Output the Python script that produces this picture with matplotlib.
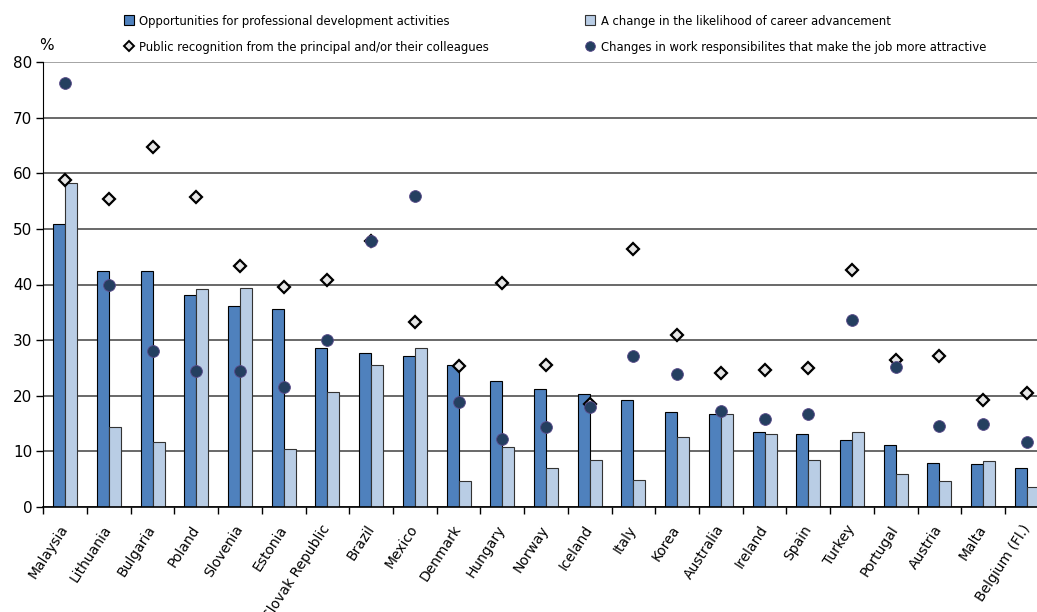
import numpy as np
import matplotlib.pyplot as plt
from matplotlib.lines import Line2D
from matplotlib.patches import Patch
from matplotlib.font_manager import FontProperties

countries = ["Malaysia", "Lithuania", "Bulgaria", "Poland", "Slovenia", "Estonia",
             "Slovak Republic", "Brazil", "Mexico", "Denmark", "Hungary", "Norway",
             "Iceland", "Italy", "Korea", "Australia", "Ireland", "Spain", "Turkey",
             "Portugal", "Austria", "Malta", "Belgium (Fl.)"]

# bars
prof_dev = [50.9, 42.4, 42.4, 38.2, 36.2, 35.6, 28.6, 27.6, 27.1, 25.5, 22.7, 21.2,
            20.4, 19.2, 17.0, 16.8, 13.4, 13.2, 12.0, 11.2, 7.9, 7.7, 7.1]
career_adv = [58.2, 14.3, 11.6, 39.2, 39.4, 10.4, 20.7, 25.5, 28.5, 4.7, 10.7, 7.0,
              8.5, 4.9, 12.6, 16.8, 13.2, 8.5, 13.4, 6.0, 4.7, 8.3, 3.6]
# markers
recognition = [58.7, 55.4, 64.8, 55.8, 43.3, 39.6, 40.8, 47.8, 33.3, 25.3, 40.2, 25.6,
               18.5, 46.3, 31.0, 24.1, 24.7, 25.0, 42.6, 26.4, 27.1, 19.2, 20.5]
responsibilities = [76.3, 39.9, 28.0, 24.5, 24.4, 21.6, 30.0, 47.8, 55.9, 18.9, 12.3, 14.4,
                    18.0, 27.1, 24.0, 17.3, 15.9, 16.8, 33.6, 25.2, 14.6, 15.0, 11.7]

labels = ["Opportunities for professional development activities",
          "A change in the likelihood of career advancement",
          "Public recognition from the principal and/or their colleagues",
          "Changes in work responsibilites that make the job more attractive"]

DARK = "#4F81BD"
LIGHT = "#B9CDE5"
NAVY = "#243F60"

W, H = 1037, 612
fig = plt.figure(figsize=(W / 100, H / 100), dpi=100)
# axes runs a little past the right edge of the figure
ax = fig.add_axes([43.3 / W, 105 / H, 1005.4 / W, 445 / H])

x = np.arange(len(countries))
bw = 0.275
ax.bar(x - bw / 2, prof_dev, bw, color=DARK, edgecolor="black", linewidth=0.8, zorder=2)
ax.bar(x + bw / 2, career_adv, bw, color=LIGHT, edgecolor="#333333", linewidth=0.8, zorder=2)
ax.plot(x, recognition, linestyle="none", marker="D", markersize=6.0,
        markerfacecolor="#E6E6E6", markeredgecolor="black", markeredgewidth=1.6, zorder=3)
ax.plot(x, responsibilities, linestyle="none", marker="o", markersize=8.5,
        markerfacecolor=NAVY, markeredgecolor="#5A4A8A", markeredgewidth=0.6, zorder=4)

ax.set_xlim(-0.5, len(countries) - 0.5)
ax.set_ylim(0, 80)
ax.set_yticks(np.arange(0, 81, 10))
ax.yaxis.grid(True, color="#404040", linewidth=1.1, zorder=0)
ax.set_axisbelow(True)
# top gridline is drawn lighter
ax.get_ygridlines()[-1].set_color("#8C8C8C")

for s in ["top", "right"]:
    ax.spines[s].set_visible(False)
ax.spines["left"].set_color("black")
ax.spines["bottom"].set_color("black")
ax.spines["bottom"].set_linewidth(1.2)

ax.tick_params(axis="y", direction="out", length=5, width=1, labelsize=11, pad=3)
ax.set_xticks(x)
ax.set_xticklabels(countries, rotation=57, ha="right", va="center",
                   rotation_mode="anchor", fontsize=10)
ax.tick_params(axis="x", which="major", length=0, pad=14)
ax.set_xticks(np.arange(-0.5, len(countries), 1.0), minor=True)
ax.tick_params(axis="x", which="minor", direction="out", length=5, width=1)

fig.text(46 / W, 1 - 45 / H, "%", fontsize=11, ha="center", va="center")

handles = [
    Patch(facecolor=DARK, edgecolor="black", linewidth=0.8),
    Line2D([], [], linestyle="none", marker="D", markersize=5, markerfacecolor="#E6E6E6",
           markeredgecolor="black", markeredgewidth=1.4),
    Patch(facecolor=LIGHT, edgecolor="#333333", linewidth=0.8),
    Line2D([], [], linestyle="none", marker="o", markersize=7, markerfacecolor=NAVY,
           markeredgecolor="#5A4A8A", markeredgewidth=0.6),
]
order = [labels[0], labels[2], labels[1], labels[3]]
legend_font = FontProperties(family="DejaVu Sans", stretch="condensed", size=9.3)
fig.legend(handles, order, loc="upper left", bbox_to_anchor=(112 / W, 1 - 3 / H),
           ncol=2, frameon=False, handlelength=0.8, handleheight=0.8,
           handletextpad=0.4, columnspacing=7.45, labelspacing=1.0, prop=legend_font)

fig.savefig("out.png", dpi=100, facecolor="white")
